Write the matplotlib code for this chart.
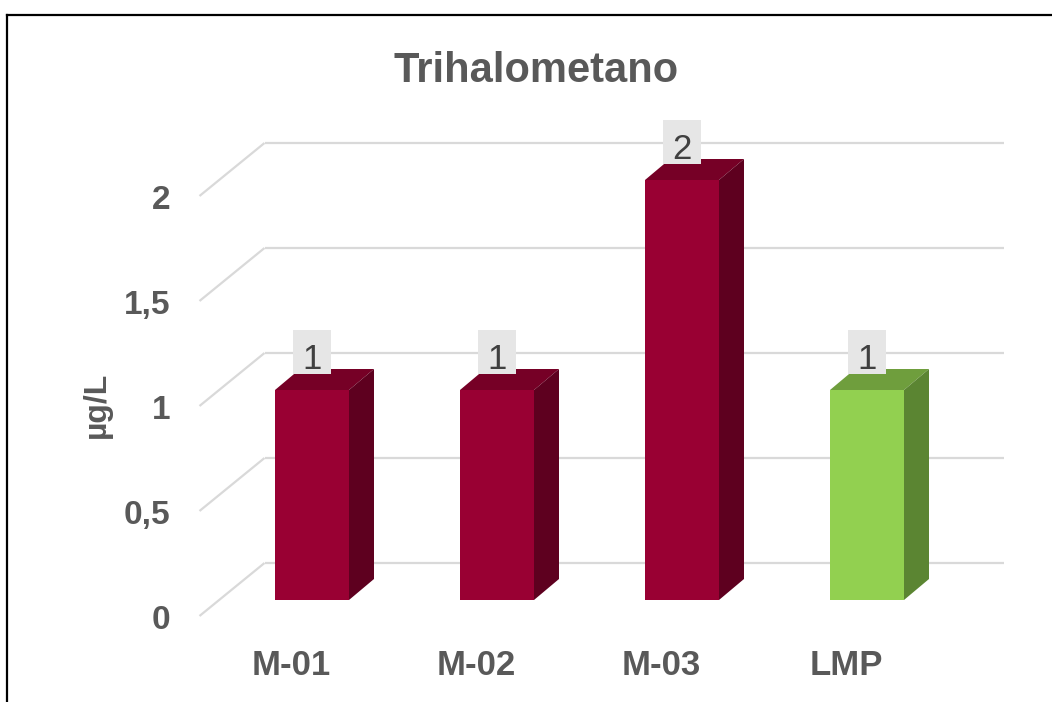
import matplotlib
matplotlib.use('Agg')
import matplotlib.pyplot as plt
from matplotlib.patches import Polygon, Rectangle
from matplotlib.lines import Line2D

# ---- data ----
categories = ['M-01', 'M-02', 'M-03', 'LMP']
values = [1, 1, 2, 1]
value_labels = ['1', '1', '2', '1']
yticks = [0, 0.5, 1, 1.5, 2]
ytick_labels = ['0', '0,5', '1', '1,5', '2']
title = 'Trihalometano'
ylabel = 'µg/L'

front_colors = ['#990033', '#990033', '#990033', '#92D050']
top_colors = ['#760026', '#760026', '#760026', '#6F9E3D']
side_colors = ['#5E001F', '#5E001F', '#5E001F', '#5B8532']

# ---- layout ----
W, H, DPI = 1052, 702, 100
PX_X, PX_Y = 185.0, 210.0      # pixels per data unit
X0, Y0 = 312.0, 600.0          # pixel position of (0, 0) (image coords)

fig = plt.figure(figsize=(W / DPI, H / DPI), dpi=DPI)
fig.patch.set_facecolor('white')
ax = fig.add_axes([0, 0, 1, 1])
ax.set_xlim(-X0 / PX_X, (W - X0) / PX_X)
ax.set_ylim(-(H - Y0) / PX_Y, Y0 / PX_Y)
ax.axis('off')

def dpx(dx, dy):
    """pixel offset (image direction) -> data offset"""
    return dx / PX_X, -dy / PX_Y

wall_dx, wall_dy = dpx(45, -37)
front_dx, front_dy = dpx(-20, 16)
bar_dx, bar_dy = dpx(25, -21)
bar_w = 0.4
x_left, x_right = -0.5, len(categories) - 0.5

grid_c = '#D9D9D9'
text_c = '#595959'
font = 'Liberation Sans'

# gridlines on back wall + diagonals to front edge
for t in yticks:
    ax.plot([x_left + wall_dx, x_right + wall_dx], [t + wall_dy, t + wall_dy],
            color=grid_c, lw=1.6, zorder=1, solid_capstyle='butt')
    ax.plot([x_left + front_dx, x_left + wall_dx], [t + front_dy, t + wall_dy],
            color=grid_c, lw=1.6, zorder=1, solid_capstyle='butt')

# bars
xs = list(range(len(categories)))
ax.bar(xs, values, width=bar_w, color=front_colors, zorder=3, linewidth=0)
for x, v, tc, sc in zip(xs, values, top_colors, side_colors):
    l, r = x - bar_w / 2, x + bar_w / 2
    top = Polygon([(l, v), (r, v), (r + bar_dx, v + bar_dy), (l + bar_dx, v + bar_dy)],
                  closed=True, facecolor=tc, edgecolor='none', zorder=3)
    side = Polygon([(r, 0), (r + bar_dx, bar_dy), (r + bar_dx, v + bar_dy), (r, v)],
                   closed=True, facecolor=sc, edgecolor='none', zorder=3)
    ax.add_patch(top)
    ax.add_patch(side)

# data labels
bw, bh = 38 / PX_X, 44 / PX_Y
for x, v, lab in zip(xs, values, value_labels):
    cy = v + 38 / PX_Y
    ax.add_patch(Rectangle((x - bw / 2, cy - bh / 2), bw, bh, facecolor='#E6E6E6',
                           edgecolor='none', zorder=4))
    ax.text(x, cy - 17 / PX_Y, lab, ha='center', va='baseline', fontsize=25,
            color='#404040', family=font, zorder=5)

# y tick labels
for t, lab in zip(yticks, ytick_labels):
    ax.text(x_left + front_dx - 29 / PX_X, t + front_dy - 13 / PX_Y, lab,
            ha='right', va='baseline', fontsize=24, fontweight='bold',
            color=text_c, family=font)

# category labels
for x, c in zip(xs, categories):
    ax.text(x - 21 / PX_X, -75 / PX_Y, c, ha='center', va='baseline',
            fontsize=25, fontweight='bold', color=text_c, family=font)

# y label
ax.text((97 - X0) / PX_X, (Y0 - 405) / PX_Y, ylabel, rotation=90, ha='center',
        va='center', fontsize=23, fontweight='bold', color=text_c, family=font)

# title
fig.text(536 / W, 1 - 82 / H, title, ha='center', va='baseline', fontsize=30,
         fontweight='bold', color=text_c, family=font)

# frame (top and left visible)
fig.add_artist(Line2D([7 / W, 1], [1 - 15 / H, 1 - 15 / H], color='black', lw=1.6,
                      transform=fig.transFigure))
fig.add_artist(Line2D([7 / W, 7 / W], [0, 1 - 15 / H], color='black', lw=1.6,
                      transform=fig.transFigure))

fig.savefig('out.png', dpi=DPI)
